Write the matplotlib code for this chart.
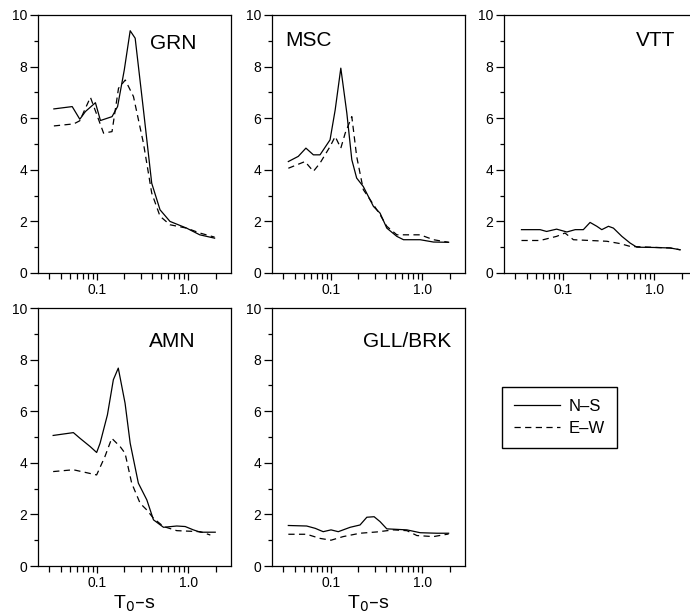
#importing dependencies
import numpy as np
import matplotlib
matplotlib.use("Agg")
import matplotlib.pyplot as plt
from matplotlib.ticker import FixedLocator, NullFormatter
from matplotlib.lines import Line2D

plt.rcParams['font.family'] = ['Liberation Sans', 'DejaVu Sans']

#spectral ratios, period in s
grn_t_ns = [0.0336, 0.0534, 0.0647, 0.0746, 0.096, 0.109, 0.146, 0.168, 0.199, 0.231, 0.262, 0.323, 0.398, 0.491, 0.631, 0.96, 1.34, 1.95]
grn_ns = [6.36, 6.45, 5.96, 6.26, 6.6, 5.91, 6.06, 6.45, 7.87, 9.39, 9.1, 6.32, 3.48, 2.45, 2.0, 1.74, 1.48, 1.35]
grn_t_ew = [0.0336, 0.0556, 0.0646, 0.0846, 0.118, 0.146, 0.172, 0.204, 0.251, 0.323, 0.398, 0.491, 0.631, 0.96, 1.34, 1.95]
grn_ew = [5.7, 5.78, 5.9, 6.81, 5.42, 5.48, 7.16, 7.48, 6.84, 5.03, 3.1, 2.2, 1.87, 1.74, 1.55, 1.39]

msc_t_ns = [0.034, 0.0437, 0.053, 0.064, 0.0757, 0.0975, 0.111, 0.128, 0.149, 0.169, 0.191, 0.226, 0.292, 0.345, 0.409, 0.527, 0.624, 0.95, 1.33, 1.95]
msc_ns = [4.32, 4.52, 4.84, 4.58, 4.58, 5.16, 6.32, 7.94, 6.2, 4.39, 3.68, 3.35, 2.58, 2.32, 1.74, 1.42, 1.29, 1.29, 1.2, 1.19]
msc_t_ew = [0.034, 0.0518, 0.064, 0.0757, 0.0975, 0.111, 0.128, 0.143, 0.169, 0.191, 0.226, 0.292, 0.345, 0.409, 0.527, 0.95, 1.33, 1.95]
msc_ew = [4.06, 4.32, 3.94, 4.26, 4.9, 5.29, 4.84, 5.42, 6.06, 4.52, 3.23, 2.65, 2.26, 1.81, 1.48, 1.48, 1.29, 1.19]

vtt_t_ns = [0.035, 0.056, 0.066, 0.085, 0.11, 0.136, 0.167, 0.198, 0.235, 0.266, 0.315, 0.357, 0.442, 0.545, 0.645, 0.98, 1.5, 1.93]
vtt_ns = [1.68, 1.68, 1.61, 1.7, 1.59, 1.68, 1.68, 1.96, 1.81, 1.68, 1.81, 1.74, 1.42, 1.16, 1.0, 0.99, 0.97, 0.9]
vtt_t_ew = [0.035, 0.056, 0.085, 0.105, 0.13, 0.198, 0.302, 0.423, 0.545, 0.9, 1.5, 1.93]
vtt_ew = [1.26, 1.26, 1.42, 1.55, 1.29, 1.26, 1.23, 1.14, 1.03, 1.0, 0.97, 0.9]

amn_t_ns = [0.033, 0.055, 0.065, 0.084, 0.099, 0.108, 0.13, 0.151, 0.171, 0.203, 0.231, 0.284, 0.352, 0.416, 0.536, 0.75, 0.927, 1.14, 1.36, 1.98]
amn_ns = [5.06, 5.17, 4.95, 4.63, 4.4, 4.76, 5.86, 7.22, 7.67, 6.31, 4.76, 3.21, 2.56, 1.79, 1.5, 1.55, 1.53, 1.4, 1.31, 1.31]
amn_t_ew = [0.033, 0.055, 0.099, 0.122, 0.145, 0.179, 0.203, 0.24, 0.297, 0.352, 0.416, 0.536, 0.75, 1.36, 1.75]
amn_ew = [3.66, 3.73, 3.53, 4.24, 4.95, 4.63, 4.37, 3.21, 2.43, 2.17, 1.85, 1.53, 1.37, 1.33, 1.2]

gll_t_ns = [0.034, 0.054, 0.067, 0.082, 0.1, 0.12, 0.162, 0.208, 0.247, 0.297, 0.345, 0.409, 0.527, 0.68, 0.95, 1.45, 1.95]
gll_ns = [1.57, 1.55, 1.46, 1.33, 1.4, 1.33, 1.5, 1.59, 1.89, 1.91, 1.72, 1.44, 1.42, 1.4, 1.29, 1.27, 1.27]
gll_t_ew = [0.034, 0.054, 0.0757, 0.1, 0.136, 0.208, 0.318, 0.485, 0.68, 0.875, 1.33, 1.95]
gll_ew = [1.23, 1.23, 1.07, 1.0, 1.14, 1.27, 1.32, 1.4, 1.37, 1.18, 1.14, 1.24]

stations = ['GRN', 'MSC', 'VTT', 'AMN', 'GLL/BRK']
t_ns = [grn_t_ns, msc_t_ns, vtt_t_ns, amn_t_ns, gll_t_ns]
ns = [grn_ns, msc_ns, vtt_ns, amn_ns, gll_ns]
t_ew = [grn_t_ew, msc_t_ew, vtt_t_ew, amn_t_ew, gll_t_ew]
ew = [grn_ew, msc_ew, vtt_ew, amn_ew, gll_ew]

#where each station name sits inside its box
name_pos = [(0.70, 0.888), (0.19, 0.90), (0.786, 0.90), (0.695, 0.872), (0.70, 0.87)]

W, H = 690, 613
fig = plt.figure(figsize=(W / 100, H / 100), dpi=100)

#boxes in pixels: left, top
boxes = [(38, 15), (272, 15), (504, 15), (38, 308), (272, 308)]
bw, bh = 193, 258

minor_x = [0.03, 0.04, 0.05, 0.06, 0.07, 0.08, 0.09, 0.2, 0.3, 0.4, 0.5, 0.6, 0.7, 0.8, 0.9, 2.0]

for i in range(5):
    left, top = boxes[i]
    ax = fig.add_axes([left / W, 1 - (top + bh) / H, bw / W, bh / H])
    ax.plot(t_ns[i], ns[i], color='black', lw=0.9)
    ax.plot(t_ew[i], ew[i], color='black', lw=0.9, dashes=(5, 3.5))
    ax.set_xscale('log')
    ax.set_xlim(0.0225, 2.95)
    ax.set_ylim(0, 10)
    ax.xaxis.set_major_locator(FixedLocator([0.1, 1.0]))
    ax.xaxis.set_minor_locator(FixedLocator(minor_x))
    ax.xaxis.set_minor_formatter(NullFormatter())
    ax.set_xticklabels(['0.1', '1.0'])
    ax.set_yticks([0, 2, 4, 6, 8, 10])
    ax.set_yticks([1, 3, 5, 7, 9], minor=True)
    ax.tick_params(axis='both', which='both', direction='out', labelsize=10,
                   top=False, right=False, width=0.9)
    ax.tick_params(axis='x', which='major', length=5, pad=2)
    ax.tick_params(axis='x', which='minor', length=4)
    ax.tick_params(axis='y', which='major', length=6, pad=2)
    ax.tick_params(axis='y', which='minor', length=3)
    for s in ax.spines.values():
        s.set_linewidth(0.9)
    ax.text(name_pos[i][0], name_pos[i][1], stations[i], transform=ax.transAxes,
            ha='center', va='center', fontsize=15)
    if i >= 3:
        ax.set_xlabel('T$_0$\u2013s', fontsize=14, labelpad=3)

#legend box
handles = [Line2D([], [], color='black', lw=0.9),
           Line2D([], [], color='black', lw=0.9, dashes=(5, 3.5))]
fig.legend(handles, ['N\u2013S', 'E\u2013W'], loc='upper left',
           bbox_to_anchor=(502 / W, 1 - 387 / H), fontsize=12, frameon=True,
           fancybox=False, edgecolor='black', framealpha=1, handlelength=2.8,
           borderpad=0.7, labelspacing=0.45, handletextpad=0.5, borderaxespad=0)

plt.savefig('out.png', dpi=100)
